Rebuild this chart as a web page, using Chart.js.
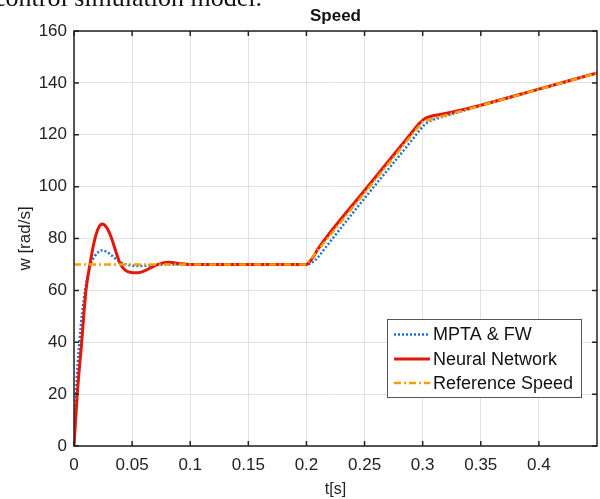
<!DOCTYPE html>
<html>
<head>
<meta charset="utf-8">
<script src="https://cdn.jsdelivr.net/npm/chart.js@4.4.0/dist/chart.umd.min.js"></script>
<style>
    body { margin: 0; background: #fff; }
    #wrap { position: relative; width: 600px; height: 499px; overflow: hidden; }
    #caption {
        position: absolute; left: -6px; top: -15px;
        font-family: "Liberation Serif", serif; font-size: 26px; line-height: 26px;
        color: #111; white-space: nowrap;
    }
    canvas { position: absolute; left: 0; top: 0; }
</style>
</head>
<body>
<div id="wrap">
    <canvas id="speed" width="600" height="499"></canvas>
    <div id="caption">control simulation model.</div>
</div>
<script>
// values
var xTicks = [0, 0.05, 0.1, 0.15, 0.2, 0.25, 0.3, 0.35, 0.4];
var yTicks = [0, 20, 40, 60, 80, 100, 120, 140, 160];

var mptaTime  = [0, 0.0017, 0.0046, 0.0095, 0.0143, 0.018, 0.021, 0.024, 0.028, 0.032, 0.037, 0.042, 0.047, 0.055, 0.065, 0.08, 0.1, 0.2, 0.205, 0.21, 0.215, 0.25, 0.29, 0.297, 0.302, 0.307, 0.315, 0.33, 0.35, 0.4, 0.45];
var mptaSpeed = [0, 20, 40, 60, 70, 73.2, 74.8, 75.4, 74.9, 73.6, 71.8, 70.5, 69.8, 69.4, 69.6, 70, 70, 70, 70.8, 72.8, 75.7, 95.5, 117.5, 121.5, 124, 125.4, 126.6, 128.6, 131.2, 137.5, 143.7];

var nnTime  = [0, 0.0028, 0.0066, 0.0103, 0.0137, 0.0175, 0.021, 0.0243, 0.028, 0.032, 0.036, 0.0395, 0.044, 0.049, 0.055, 0.061, 0.068, 0.075, 0.082, 0.09, 0.1, 0.15, 0.2, 0.205, 0.21, 0.25, 0.29, 0.297, 0.302, 0.308, 0.315, 0.325, 0.35, 0.4, 0.45];
var nnSpeed = [0, 20, 40, 60, 70, 79, 84, 85.6, 84.3, 80.5, 75, 70.5, 67.8, 66.9, 66.8, 67.6, 69.2, 70.4, 70.8, 70.4, 70, 70, 70, 72.3, 76, 98.5, 120.5, 124.3, 126.3, 127.2, 127.8, 128.7, 131.4, 137.6, 143.8];

var refTime  = [0, 0.2, 0.3, 0.45];
var refSpeed = [70, 70, 125, 143.75];

function pts(t, v) {
    return t.map(function (x, i) { return {x: x, y: v[i]}; });
}

var FONT = '"Liberation Sans", Arial, sans-serif';

// MATLAB style box, inward ticks, title and legend
var matlabFrame = {
    id: 'matlabFrame',
    afterDatasetsDraw: function (chart) {
        var ctx = chart.ctx, a = chart.chartArea;
        var xs = chart.scales.x, ys = chart.scales.y;
        ctx.save();
        ctx.strokeStyle = '#222';
        ctx.lineWidth = 1.5;
        ctx.strokeRect(a.left, a.top, a.right - a.left, a.bottom - a.top);
        ctx.beginPath();
        xTicks.forEach(function (t) {
            var px = xs.getPixelForValue(t);
            ctx.moveTo(px, a.bottom); ctx.lineTo(px, a.bottom - 5);
            ctx.moveTo(px, a.top); ctx.lineTo(px, a.top + 5);
        });
        yTicks.forEach(function (t) {
            var py = ys.getPixelForValue(t);
            ctx.moveTo(a.left, py); ctx.lineTo(a.left + 5, py);
            ctx.moveTo(a.right, py); ctx.lineTo(a.right - 5, py);
        });
        ctx.stroke();

        // title
        ctx.fillStyle = '#111';
        ctx.font = 'bold 17px ' + FONT;
        ctx.textAlign = 'center';
        ctx.textBaseline = 'middle';
        ctx.fillText('Speed', (a.left + a.right) / 2, 16);

        // legend
        var bx = 387, by = 319, bw = 194, bh = 78;
        ctx.fillStyle = '#fff';
        ctx.fillRect(bx, by, bw, bh);
        ctx.strokeStyle = '#555';
        ctx.lineWidth = 1;
        ctx.strokeRect(bx + 0.5, by + 0.5, bw, bh);
        var rows = [334.5, 359, 383];
        ctx.font = '18px ' + FONT;
        ctx.textAlign = 'left';
        chart.data.datasets.forEach(function (ds, i) {
            var y = rows[i];
            ctx.beginPath();
            ctx.strokeStyle = ds.borderColor;
            ctx.lineWidth = ds.borderWidth;
            ctx.setLineDash(ds.borderDash || []);
            ctx.moveTo(394, y); ctx.lineTo(430, y);
            ctx.stroke();
            ctx.setLineDash([]);
            ctx.fillStyle = '#111';
            ctx.fillText(ds.label, 433, y + 1);
        });
        ctx.restore();
    }
};

var ctx = document.getElementById('speed').getContext('2d');
var chart = new Chart(ctx, {
    type: 'line',
    data: {
        datasets: [
            {
                label: 'MPTA & FW',
                data: pts(mptaTime, mptaSpeed),
                borderColor: '#1f6fd1',
                borderWidth: 2.5,
                borderDash: [2, 2],
                order: 3
            },
            {
                label: 'Neural Network',
                data: pts(nnTime, nnSpeed),
                borderColor: '#e3170a',
                borderWidth: 3,
                order: 2
            },
            {
                label: 'Reference Speed',
                data: pts(refTime, refSpeed),
                borderColor: '#f5a000',
                borderWidth: 2.5,
                borderDash: [7, 3, 2, 3],
                cubicInterpolationMode: 'default',
                tension: 0,
                order: 1
            }
        ]
    },
    options: {
        responsive: false,
        animation: false,
        elements: {
            point: { radius: 0 },
            line: { cubicInterpolationMode: 'monotone', fill: false }
        },
        layout: { padding: { top: 31, right: 3, bottom: 0, left: 0 } },
        plugins: {
            legend: { display: false },
            title: { display: false },
            tooltip: { enabled: false }
        },
        scales: {
            x: {
                type: 'linear',
                min: 0,
                max: 0.45,
                afterBuildTicks: function (scale) {
                    scale.ticks = xTicks.map(function (v) { return {value: v}; });
                },
                afterFit: function (scale) { scale.height = 53; },
                grid: { color: '#e2e2e2', drawTicks: false },
                border: { display: false },
                ticks: {
                    padding: 9,
                    color: '#222',
                    font: { family: FONT, size: 17 },
                    maxRotation: 0,
                    callback: function (v) { return String(Math.round(v * 100) / 100); }
                },
                title: {
                    display: true,
                    text: 't[s]',
                    color: '#222',
                    font: { family: FONT, size: 16 },
                    padding: { top: 0, bottom: 0 }
                }
            },
            y: {
                min: 0,
                max: 160,
                afterBuildTicks: function (scale) {
                    scale.ticks = yTicks.map(function (v) { return {value: v}; });
                },
                afterFit: function (scale) { scale.width = 74; },
                grid: { color: '#e2e2e2', drawTicks: false },
                border: { display: false },
                ticks: {
                    padding: 7,
                    color: '#222',
                    font: { family: FONT, size: 17 }
                },
                title: {
                    display: true,
                    text: 'w [rad/s]',
                    color: '#222',
                    font: { family: FONT, size: 17 },
                    padding: { top: 15, bottom: 0 }
                }
            }
        }
    },
    plugins: [matlabFrame]
});
</script>
</body>
</html>
